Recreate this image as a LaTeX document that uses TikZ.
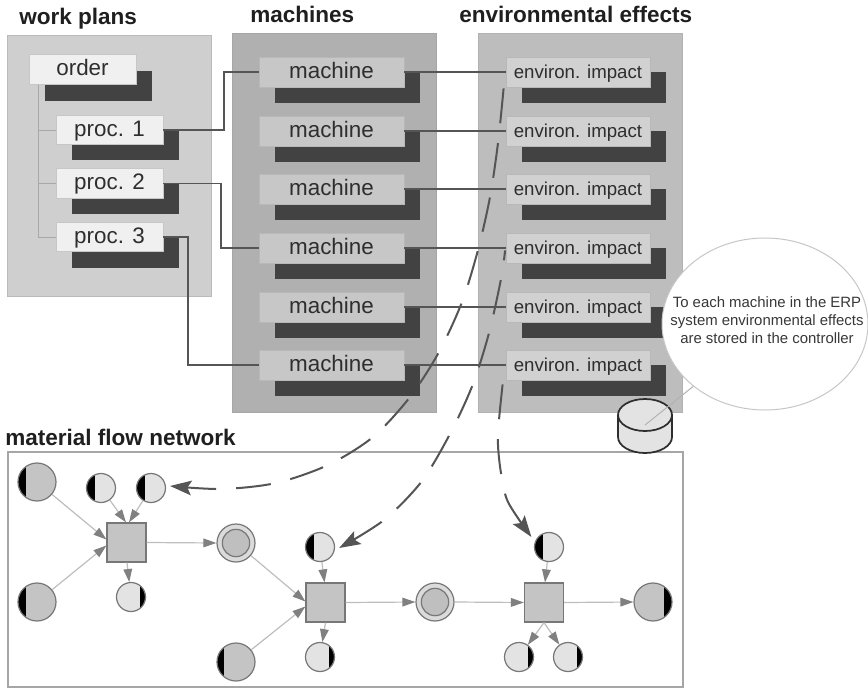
\documentclass[tikz,border=0pt]{standalone}
\usepackage{fontspec}
\setmainfont{Liberation Sans}
\usetikzlibrary{calc,arrows.meta,shapes.geometric}
\definecolor{inkdark}{HTML}{2E2E2E}
\definecolor{shadowgray}{HTML}{424242}
\definecolor{linkgray}{HTML}{555555}
\definecolor{treegray}{HTML}{A8A8A8}
\definecolor{flowline}{HTML}{BEBEBE}
\definecolor{flowtip}{HTML}{808080}
\definecolor{netborder}{HTML}{A6A6A6}
\definecolor{nodeborder}{HTML}{777777}
\tikzset{
  paneA/.style={fill=black!19,draw=black!27,line width=0.75pt},
  paneB/.style={fill=black!31,draw=black!35,line width=0.75pt},
  paneC/.style={fill=black!26,draw=black!30,line width=0.75pt},
  titletext/.style={font=\fontsize{16.9pt}{18pt}\selectfont\bfseries,text=black!88,anchor=base west,inner sep=0pt},
  basebox/.style={rectangle,inner sep=0pt,text=inkdark,line width=0.6pt},
  orderbox/.style={basebox,text height=12.5pt,text depth=3pt,minimum width=80.25pt,minimum height=22pt,fill=black!6,draw=black!22,font=\fontsize{16.8pt}{18pt}\selectfont},
  procbox/.style={orderbox},
  machinebox/.style={basebox,text height=12.5pt,text depth=3pt,minimum width=108.75pt,minimum height=22.5pt,fill=black!22,draw=black!28,font=\fontsize{16.8pt}{18pt}\selectfont},
  envbox/.style={basebox,text height=11pt,text depth=2pt,minimum width=108pt,minimum height=22.5pt,fill=black!18,draw=black!28,font=\fontsize{14pt}{16pt}\selectfont},
  shadowA/.style={rectangle,inner sep=0pt,minimum width=80.25pt,minimum height=22.5pt,fill=shadowgray},
  shadowB/.style={rectangle,inner sep=0pt,minimum width=108.75pt,minimum height=23pt,fill=shadowgray},
  shadowC/.style={rectangle,inner sep=0pt,minimum width=108pt,minimum height=23pt,fill=shadowgray},
  treeline/.style={draw=treegray,line width=0.75pt},
  linkline/.style={draw=linkgray,line width=1.4pt},
  flowarrow/.style={draw=flowline,line width=0.9pt,-{Triangle[length=9.75pt,width=6.5pt,color=flowtip,fill=flowtip]}},
  dashflow/.style={draw=linkgray,line width=1.5pt,dash pattern=on 26.25pt off 15pt,-{Stealth[length=16pt,width=11pt,color=linkgray,fill=linkgray,inset=3pt]}},
  squarenode/.style={rectangle,inner sep=0pt,minimum size=29.25pt,fill=black!23,draw=nodeborder,line width=0.9pt},
  bigplace/.style={circle,inner sep=0pt,minimum size=28.5pt,fill=black!23,draw=nodeborder,line width=0.9pt},
  smallplace/.style={circle,inner sep=0pt,minimum size=21.75pt,fill=black!11,draw=nodeborder,line width=0.9pt},
  ringouter/.style={bigplace,fill=black!14},
  ringinner/.style={circle,inner sep=0pt,minimum size=20.5pt,fill=black!25,draw=nodeborder,line width=0.9pt},
  leftbar/.style={path picture={\fill[black] (path picture bounding box.south west) rectangle ($(path picture bounding box.north west)+(#1,0)$);}},
  rightbar/.style={path picture={\fill[black] (path picture bounding box.south east) rectangle ($(path picture bounding box.north east)+(-#1,0)$);}},
  calloutshape/.style={ellipse,inner sep=0pt,minimum width=154.5pt,minimum height=129pt,fill=white,draw=black!22,line width=0.75pt},
  callouttext/.style={inner sep=0pt,align=center,text=black!78,font=\fontsize{11.2pt}{13.7pt}\selectfont},
}
\begin{document}
\begin{tikzpicture}[x=0.75pt,y=-0.75pt]
\useasboundingbox (0,0) rectangle (868,689);
\fill[white] (0,0) rectangle (868,689);
% titles
\node[titletext] (t1) at (19,24) {work plans};
\node[titletext] (t2) at (250,22) {machines};
\node[titletext] (t3) at (459,22) {environmental effects};
\node[titletext] (t4) at (5,445) {material flow network};
% panels
\filldraw[paneA] (7,35) rectangle (211,296);
\filldraw[paneB] (232,33) rectangle (436,412);
\filldraw[paneC] (478,33) rectangle (682,412);
% work plan shadows and boxes
\node[shadowA] (os) at (98.5,85.5) {};
\node[shadowA] (p1s) at (125.5,145) {};
\node[shadowA] (p2s) at (125.5,198.5) {};
\node[shadowA] (p3s) at (125.5,252.5) {};
\node[orderbox] (order) at (82.5,69.5) {order};
\node[procbox] (p1) at (109.5,130) {proc. 1};
\node[procbox] (p2) at (109.5,183.5) {proc. 2};
\node[procbox] (p3) at (109.5,237) {proc. 3};
\coordinate (treetop) at ($(order.south west)+(10,0)$);
\draw[treeline] (treetop) |- (p3.west);
\draw[treeline] (treetop) |- (p2.west);
\draw[treeline] (treetop) |- (p1.west);
% machines and environmental impacts
\foreach \i/\y in {1/72,2/131,3/189,4/248,5/307,6/365}{
  \node[shadowB] (ms\i) at (347.5,\y+15.5) {};
  \node[shadowC] (es\i) at (594,\y+15.5) {};
  \node[machinebox] (m\i) at (331.5,\y) {machine};
  \node[envbox] (e\i) at (578,\y) {environ. impact};
  \draw[linkline] (m\i.east) -- (e\i.west);
}
% links plans to machines
\coordinate (via1) at (224,100);
\coordinate (via2) at (221,215);
\coordinate (via3) at (188,300);
\draw[linkline] (p1.east) -| (via1) |- (m1.west);
\draw[linkline] (p2.east) -| (via2) |- (m4.west);
\draw[linkline] (p3.east) -| (via3) |- (m6.west);
% network
\draw[netborder,fill=white,line width=1pt] (8,452) rectangle (683,687);
% cylinder
\coordinate (cyl) at (645,425);
\filldraw[fill=black!11,draw=inkdark,line width=1.3pt] (618,415) -- (618,437) arc[start angle=180,end angle=0,x radius=27,y radius=16] -- (672,415);
\filldraw[fill=black!11,draw=inkdark,line width=1.3pt] (645,415) ellipse[x radius=27,y radius=16];
% callout
\node[calloutshape] (call) at (765,324) {};
\draw[draw=black!30,line width=0.75pt] (call.221) -- (cyl);
\node[callouttext] (calltxt) at (767,320) {To each machine in the ERP\\system environmental effects\\are stored in the controller};
% places and transitions
\node[bigplace,leftbar=8] (a1) at (37,482) {};
\node[bigplace,leftbar=8] (a2) at (37,602) {};
\node[smallplace,leftbar=8] (a3) at (101,488) {};
\node[smallplace,leftbar=8] (a4) at (151,488) {};
\node[squarenode] (sq1) at (126.5,542.5) {};
\node[smallplace,rightbar=6] (a5) at (131,597) {};
\node[ringouter] (d1) at (236,543) {};
\node[ringinner] (d1i) at (236,543) {};
\node[smallplace,leftbar=8] (b1) at (320,547) {};
\node[squarenode] (sq2) at (325.5,602.5) {};
\node[smallplace,rightbar=6] (b2) at (320,657) {};
\node[bigplace,leftbar=7] (b3) at (236,662) {};
\node[ringouter] (d2) at (435,602) {};
\node[ringinner] (d2i) at (435,602) {};
\node[smallplace,leftbar=8] (c1) at (549,547) {};
\node[squarenode] (sq3) at (544,602.5) {};
\node[bigplace,rightbar=8] (c2) at (653,602) {};
\node[smallplace,rightbar=6] (c3) at (519,657) {};
\node[smallplace,rightbar=6] (c4) at (568,657) {};
% flow arrows
\draw[flowarrow] (a1) -- ($(sq1.west)+(0,-3)$);
\draw[flowarrow] (a2) -- ($(sq1.west)+(0,3)$);
\draw[flowarrow] (a3) -- ($(sq1.north)+(-0.5,0)$);
\draw[flowarrow] (a4) -- ($(sq1.north)+(2.5,0)$);
\draw[flowarrow] ($(sq1.south)+(0.5,0)$) -- (a5);
\draw[flowarrow] (sq1.east) -- (d1.west);
\draw[flowarrow] (d1) -- ($(sq2.west)+(0,-1)$);
\draw[flowarrow] (b3) -- ($(sq2.west)+(0,4)$);
\draw[flowarrow] (b1) -- ($(sq2.north)+(-1,0)$);
\draw[flowarrow] ($(sq2.south)$) -- (b2);
\draw[flowarrow] (sq2.east) -- (d2.west);
\draw[flowarrow] (d2.east) -- (sq3.west);
\draw[flowarrow] (c1) -- ($(sq3.north)+(1,0)$);
\draw[flowarrow] (sq3.east) -- (c2.west);
\draw[flowarrow] (sq3.south) -- (c3);
\draw[flowarrow] (sq3.south) -- (c4);
% dashed curves
\coordinate (startA) at ($(e1.south west)+(-2,1)$);
\coordinate (startB) at ($(e4.south west)+(-0.5,-13)$);
\coordinate (startC) at ($(e6.south west)+(-3,4)$);
\coordinate (endA) at ($(a4.east)+(4,-2)$);
\coordinate (endB) at ($(b1.east)+(4,1)$);
\coordinate (endC) at ($(c1.west)+(-2.5,-10)$);
\draw[dashflow] plot[smooth] coordinates {(startA) (498,143) (490,197) (478,250) (462,302) (439,352) (410,397) (373,437) (328,465) (276,483) (222,489) (endA)};
\draw[dashflow,dash phase=18.75pt] plot[smooth] coordinates {(startB) (501,279) (489,333) (473,384) (451,432) (422,481) (384,520) (endB)};
\draw[dashflow] plot[smooth] coordinates {(startC) (499,420) (498,445) (501,473) (508,502) (endC)};
\end{tikzpicture}
\end{document}
